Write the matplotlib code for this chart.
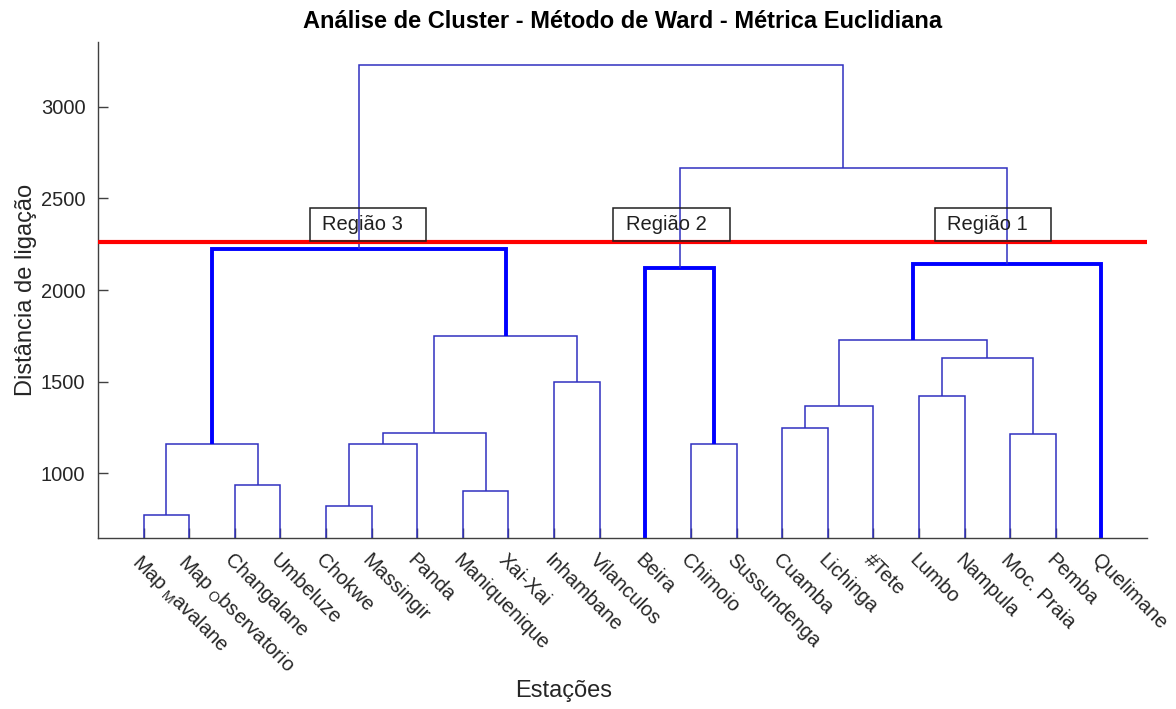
import matplotlib
matplotlib.use("Agg")
import matplotlib.pyplot as plt
from matplotlib.patches import Rectangle

plt.rcParams['font.family'] = ['Liberation Sans', 'DejaVu Sans']
plt.rcParams['mathtext.fontset'] = 'custom'
plt.rcParams['mathtext.rm'] = 'Liberation Sans'
plt.rcParams['mathtext.it'] = 'Liberation Sans:italic'
plt.rcParams['mathtext.bf'] = 'Liberation Sans:bold'

# Stations in dendrogram leaf order
estacoes = [r'Map$_{\mathregular{\ M}}$avalane', r'Map$_{\mathregular{\ O}}$bservatorio',
            'Changalane', 'Umbeluze', 'Chokwe', 'Massingir', 'Panda',
            'Maniquenique', 'Xai-Xai', 'Inhambane', 'Vilanculos', 'Beira',
            'Chimoio', 'Sussundenga', 'Cuamba', 'Lichinga', '#Tete', 'Lumbo',
            'Nampula', 'Moc. Praia', 'Pemba', 'Quelimane']

# Ward linkage: nodes 0-21 are stations, merge k creates node 22+k
no_a = [0, 4, 7, 2, 23, 12, 22, 19, 26, 14, 31, 17, 9, 33, 32, 30, 11, 36, 28, 38, 40]
no_b = [1, 5, 8, 3, 6, 13, 25, 20, 24, 15, 16, 18, 10, 29, 35, 34, 27, 21, 37, 39, 41]
distancia = [773, 822, 905, 936, 1157, 1160, 1160, 1215, 1222, 1249, 1369,
             1420, 1497, 1627, 1725, 1749, 2118, 2140, 2222, 2664, 3227]

# Cut level defining the regions
corte = 2260
regioes = ['Região 3', 'Região 2', 'Região 1']

fig = plt.figure(figsize=(11.76, 7.09), dpi=100)
ax = fig.add_axes([98 / 1176, 1 - 538.3 / 709, 1049 / 1176, 496.6 / 709])

n = len(estacoes)
pos_x = {i: i + 1.0 for i in range(n)}
alt = {i: 0.0 for i in range(n)}

# parent height of each node, to find the links just below the cut
pai = {}
for k, (a, b, h) in enumerate(zip(no_a, no_b, distancia)):
    pai[a] = h
    pai[b] = h

for k, (a, b, h) in enumerate(zip(no_a, no_b, distancia)):
    xa, xb = pos_x[a], pos_x[b]
    ya, yb = alt[a], alt[b]
    topo_regiao = h < corte and pai.get(n + k, 0) > corte
    if topo_regiao:
        cor, lw = '#0000ff', 2.8
    else:
        cor, lw = '#3030c0', 1.1
    ax.plot([xa, xa, xb, xb], [ya, h, h, yb], color=cor, lw=lw,
            solid_joinstyle='miter', solid_capstyle='butt', zorder=2)
    pos_x[n + k] = (xa + xb) / 2
    alt[n + k] = h

ax.axhline(corte, color='#ff0000', lw=3, zorder=3)

# Region label boxes
caixa_x = [4.65, 11.3, 18.35]
for x0, rotulo in zip(caixa_x, regioes):
    ax.add_patch(Rectangle((x0, corte + 5), 2.55, 185, fill=False,
                           edgecolor='#202020', lw=1.1, zorder=4))
    ax.text(x0 + 0.27, corte + 5 + 92, rotulo, fontsize=14.5, color='#202020',
            va='center', ha='left', zorder=5)

ax.set_xlim(0, n + 1)
ax.set_ylim(645, 3355)
ax.spines['top'].set_visible(False)
ax.spines['right'].set_visible(False)
for s in ('left', 'bottom'):
    ax.spines[s].set_color('#404040')
    ax.spines[s].set_linewidth(1.0)

ax.set_yticks([1000, 1500, 2000, 2500, 3000])
ax.set_xticks(range(1, n + 1))
ax.set_xticklabels(estacoes, rotation=-45, ha='left', va='top',
                   rotation_mode='anchor')
ax.tick_params(direction='in', length=7, width=1, color='#404040',
               labelsize=14.5, labelcolor='#262626')
ax.tick_params(axis='x', pad=9)
ax.tick_params(axis='y', pad=9)

ax.set_title('Análise de Cluster - Método de Ward - Métrica Euclidiana',
             fontsize=17, fontweight='bold', pad=10)
ax.set_ylabel('Distância de ligação', fontsize=17, color='#262626')
ax.yaxis.set_label_coords(-0.058, 0.5)
ax.set_xlabel('Estações', fontsize=17, color='#262626')
ax.xaxis.set_label_coords(0.4438, -0.285)

fig.savefig('out.png', dpi=100)
